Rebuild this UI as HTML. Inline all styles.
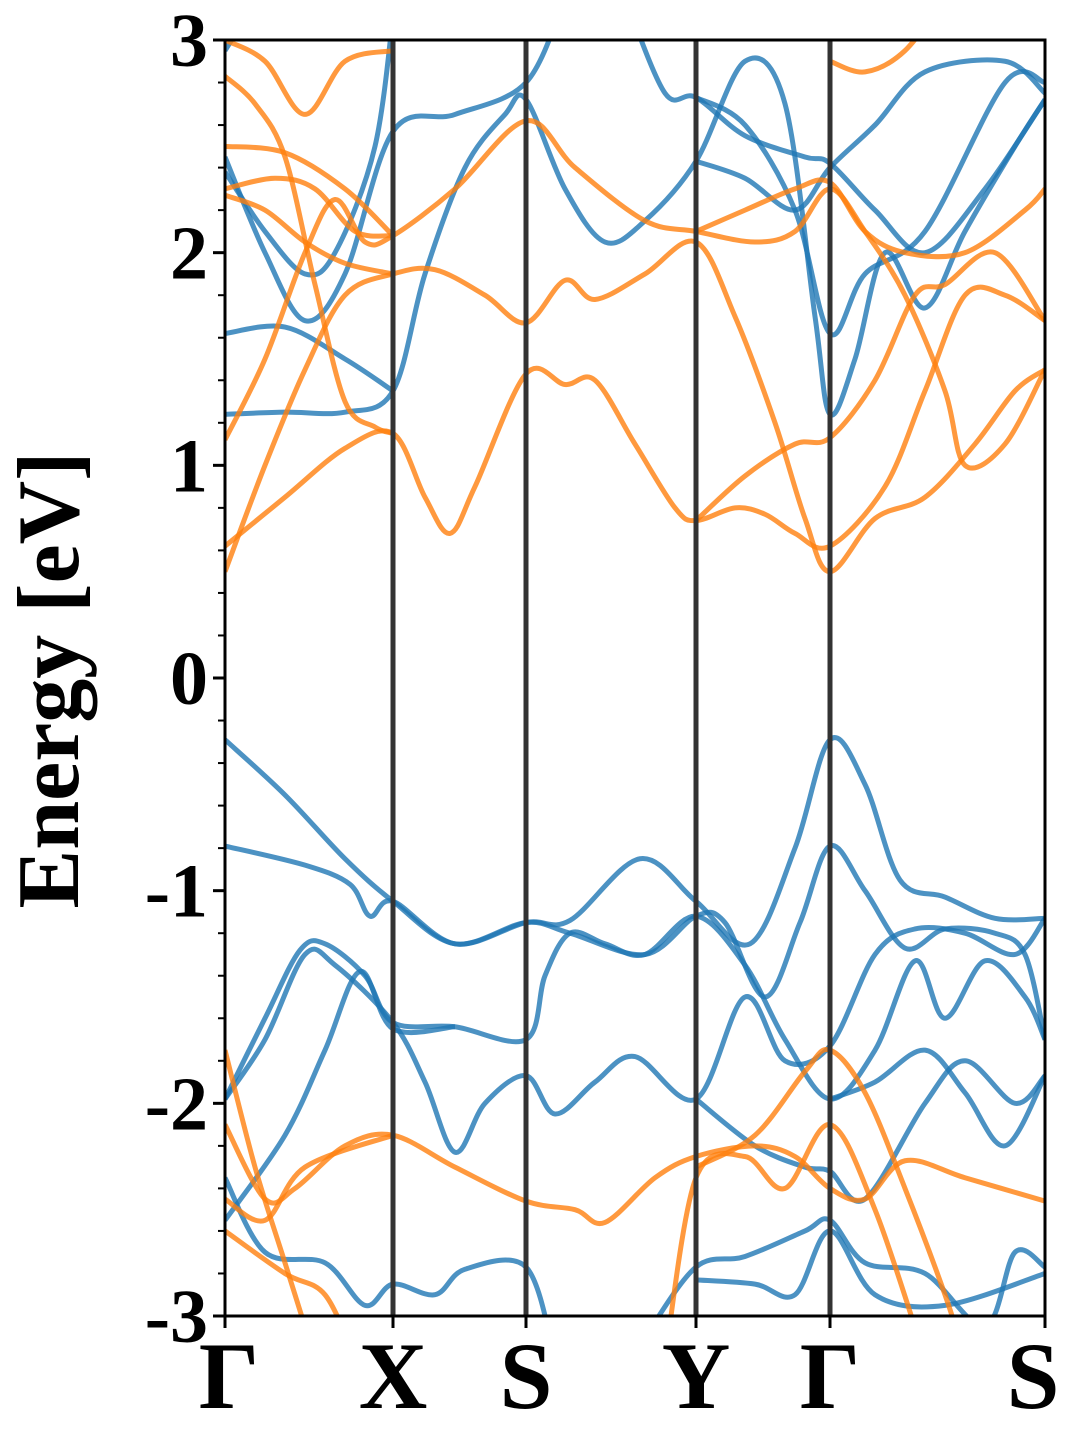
<!DOCTYPE html>
<html><head><meta charset="utf-8"><style>
html,body{margin:0;padding:0;background:#fff;width:1080px;height:1440px;overflow:hidden}
svg text{font-family:"Liberation Serif",serif;font-weight:bold}
</style></head><body>
<svg id="chart" width="1080" height="1440" xmlns="http://www.w3.org/2000/svg"></svg>
<script>
const kLabels=["Γ","X","S","Y","Γ","S"];
const kTicks=[0,168,301,471,605,820];
const yTicks=[-3,-2,-1,0,1,2,3];
const blueBands=[
[[0,-0.29],[60,-0.55],[120,-0.85],[168,-1.05],[230,-1.25],[301,-1.15],[345,-1.14],[415,-0.85],[471,-1.05],[525,-1.25],[570,-0.8],[605,-0.29],[640,-0.5],[675,-0.95],[720,-1.03],[770,-1.13],[820,-1.13]],
[[0,-0.79],[80,-0.88],[125,-0.97],[145,-1.12],[168,-1.05],[230,-1.25],[301,-1.15],[345,-1.2],[420,-1.3],[471,-1.12],[500,-1.15],[540,-1.5],[575,-1.15],[605,-0.79],[640,-1.0],[680,-1.27],[720,-1.18],[770,-1.2],[800,-1.3],[820,-1.7]],
[[0,-1.98],[40,-1.6],[75,-1.28],[100,-1.25],[140,-1.4],[168,-1.62],[230,-1.64],[301,-1.7],[320,-1.4],[345,-1.2],[380,-1.25],[420,-1.3],[471,-1.12],[520,-1.35],[560,-1.7],[605,-1.98],[650,-1.75],[690,-1.33],[720,-1.6],[760,-1.33],[800,-1.5],[820,-1.7]],
[[0,-1.98],[40,-1.7],[80,-1.3],[110,-1.35],[168,-1.62],[200,-1.9],[230,-2.23],[260,-2.0],[301,-1.87],[330,-2.05],[370,-1.9],[410,-1.78],[471,-1.98],[520,-1.5],[560,-1.8],[605,-1.73],[650,-1.3],[690,-1.18],[740,-1.2],[790,-1.3],[820,-1.13]],
[[0,-2.55],[60,-2.15],[100,-1.75],[135,-1.38],[168,-1.65],[230,-1.64]],
[[0,-2.35],[40,-2.7],[100,-2.75],[140,-2.95],[168,-2.85],[210,-2.9],[240,-2.78],[301,-2.77],[330,-3.2]],
[[420,-3.1],[471,-2.77],[520,-2.72],[580,-2.6],[605,-2.55],[640,-2.75],[700,-2.8],[760,-3.05],[790,-2.7],[820,-2.77]],
[[471,-2.83],[530,-2.85],[570,-2.9],[605,-2.6],[650,-2.9],[720,-2.95],[820,-2.8]],
[[471,-1.98],[530,-2.2],[580,-2.3],[605,-2.32],[640,-2.45],[700,-2.0],[740,-1.8],[790,-2.0],[820,-1.87]],
[[605,-1.98],[650,-1.9],[700,-1.75],[740,-1.95],[780,-2.2],[820,-1.87]],
[[0,1.24],[60,1.25],[120,1.25],[168,1.35],[200,1.9],[240,2.4],[280,2.65],[301,2.72],[340,2.3],[380,2.05],[420,2.15],[471,2.43],[520,2.9],[560,2.7],[590,1.7],[605,1.24],[630,1.5],[660,2.0],[700,1.74],[740,2.1],[790,2.5],[820,2.72]],
[[0,1.62],[60,1.65],[120,1.5],[168,1.35]],
[[0,2.45],[40,2.0],[80,1.68],[120,1.9],[168,2.57],[230,2.65],[301,2.8],[340,3.2]],
[[400,3.2],[440,2.75],[471,2.73],[520,2.55],[580,2.45],[605,2.42],[650,2.2],[700,2.0],[760,2.3],[820,2.72]],
[[0,2.38],[40,2.1],[80,1.9],[110,2.0],[150,2.5],[170,3.2]],
[[471,2.73],[520,2.6],[570,2.2],[605,1.62],[640,1.9],[700,2.1],[780,2.8],[820,2.8]],
[[0,2.95],[20,3.1]],
[[471,2.43],[520,2.35],[570,2.2],[605,2.4],[650,2.6],[700,2.85],[780,2.9],[820,2.75]]
];
const orangeBands=[
[[0,-1.75],[30,-2.3],[60,-2.75],[90,-3.2]],
[[0,-2.1],[40,-2.45],[70,-2.4],[120,-2.2],[168,-2.15],[230,-2.3],[301,-2.46],[350,-2.5],[380,-2.56],[430,-2.35],[471,-2.25],[530,-2.2],[570,-2.25],[605,-2.4],[640,-2.45],[680,-2.27],[740,-2.35],[820,-2.46]],
[[0,-2.45],[40,-2.55],[80,-2.3],[168,-2.15]],
[[0,-2.6],[60,-2.8],[100,-2.9],[130,-3.2]],
[[471,-2.3],[530,-2.15],[580,-1.85],[605,-1.75],[640,-1.95],[680,-2.4],[720,-2.9],[740,-3.2]],
[[440,-3.2],[471,-2.35],[520,-2.25],[560,-2.4],[605,-2.1],[650,-2.5],[700,-3.2]],
[[0,0.5],[40,1.0],[80,1.45],[120,1.8],[168,1.9],[210,1.92],[260,1.8],[301,1.67],[340,1.87],[370,1.78],[420,1.9],[471,2.05],[510,1.7],[550,1.2],[580,0.75],[605,0.5],[650,0.75],[700,0.85],[750,1.1],[790,1.35],[820,1.45]],
[[0,0.62],[60,0.85],[120,1.08],[168,1.15],[200,0.85],[225,0.68],[250,0.9],[301,1.43],[340,1.38],[370,1.4],[410,1.1],[450,0.8],[471,0.74],[510,0.8],[540,0.77],[570,0.68],[605,0.62],[660,0.9],[700,1.35],[740,1.8],[780,1.8],[820,1.68]],
[[0,1.12],[40,1.5],[80,2.0],[110,2.25],[140,2.05],[168,2.08],[230,2.3],[301,2.62],[350,2.4],[420,2.15],[471,2.1],[530,2.05],[570,2.1],[605,2.3],[640,2.1],[680,1.8],[720,1.35],[740,1.0],[780,1.1],[820,1.45]],
[[471,0.74],[520,0.95],[570,1.1],[605,1.13],[650,1.4],[690,1.8],[720,1.85],[770,2.0],[820,1.68]],
[[0,2.83],[30,2.7],[60,2.45],[90,1.85],[120,1.3],[150,1.18],[168,1.15]],
[[0,2.27],[40,2.2],[80,2.05],[120,1.95],[168,1.9]],
[[0,2.3],[50,2.35],[90,2.3],[130,2.1],[168,2.08]],
[[0,2.5],[60,2.47],[120,2.3],[168,2.08]],
[[0,3.0],[40,2.9],[80,2.65],[120,2.9],[168,2.95]],
[[471,2.1],[520,2.2],[570,2.3],[605,2.33],[640,2.1],[680,2.0],[740,2.0],[800,2.2],[820,2.3]],
[[605,2.9],[640,2.85],[680,2.95],[720,3.2]]
];
const NS="http://www.w3.org/2000/svg";
const svg=document.getElementById('chart');
const X0=225,X1=1045,Y0=40,Y1=1316,EMIN=-3,EMAX=3;
const xs=k=>X0+(k-kTicks[0])/(kTicks[kTicks.length-1]-kTicks[0])*(X1-X0);
const ys=e=>Y1-(e-EMIN)/(EMAX-EMIN)*(Y1-Y0);
function mk(t,a){const e=document.createElementNS(NS,t);for(const k in a)e.setAttribute(k,a[k]);svg.appendChild(e);return e;}
const defs=document.createElementNS(NS,'defs');
defs.innerHTML='<clipPath id="pc"><rect x="'+X0+'" y="'+Y0+'" width="'+(X1-X0)+'" height="'+(Y1-Y0)+'"/></clipPath>';
svg.appendChild(defs);
function path(pts){const p=pts.map(q=>[xs(q[0]),ys(q[1])]);let d='M'+p[0][0]+','+p[0][1];
for(let i=0;i<p.length-1;i++){const a=p[i-1]||p[i],b=p[i],c=p[i+1],n=p[i+2]||c;
const c1=[b[0]+(c[0]-a[0])/6,b[1]+(c[1]-a[1])/6],c2=[c[0]-(n[0]-b[0])/6,c[1]-(n[1]-b[1])/6];
d+=' C'+c1+' '+c2+' '+c;}return d;}
const g=mk('g',{'clip-path':'url(#pc)'});


function draw(bands,col,nm){bands.forEach((b,i)=>{const e=document.createElementNS(NS,'path');
e.setAttribute('d',path(b));e.setAttribute('fill','none');e.setAttribute('stroke',col);e.setAttribute('stroke-width','5');e.setAttribute('stroke-opacity','0.8');


g.appendChild(e);});}
draw(blueBands,'#1f77b4','spin-up');
draw(orangeBands,'#ff7f0e','spin-down');
kTicks.slice(1,-1).forEach((k,i)=>{const l=mk('line',{x1:xs(k),x2:xs(k),y1:Y0,y2:Y1,stroke:'#333',"stroke-width":5});

});
const fr=mk('rect',{x:X0,y:Y0,width:X1-X0,height:Y1-Y0,fill:'none',stroke:'#000',"stroke-width":3});


for(let v=-30;v<=30;v+=2){const y=ys(v/10);const major=v%10===0;mk('line',{x1:X0,x2:X0-(major?12:7),y1:y,y2:y,stroke:'#000',"stroke-width":major?3:2});}
yTicks.forEach(v=>{const t=mk('text',{x:208,y:ys(v)+26,"text-anchor":"end","font-size":76});t.textContent=v;

});
kTicks.forEach((k,i)=>{mk('line',{x1:xs(k),x2:xs(k),y1:Y1,y2:Y1+12,stroke:'#000',"stroke-width":3});
const t=mk('text',{x:i===kTicks.length-1?xs(k)-12:(i===0?xs(k)+4:xs(k)),y:1408,"text-anchor":"middle","font-size":95});t.textContent=kLabels[i];

});
const yl=mk('text',{x:0,y:0,"text-anchor":"middle","font-size":88,transform:'translate(78,680) rotate(-90)'});yl.textContent='Energy [eV]';


</script>
</body></html>
